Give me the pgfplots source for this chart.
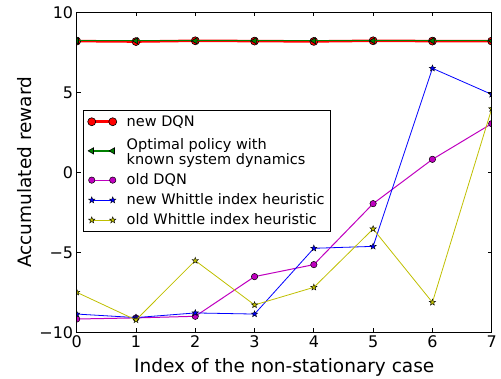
\documentclass[border=0pt]{standalone}
\usepackage{fontspec}
\setmainfont{DejaVu Sans}
\usepackage{pgfplots}
\pgfplotsset{compat=1.18}
\definecolor{mplred}{rgb}{1,0,0}
\definecolor{mplgreen}{rgb}{0,0.5,0}
\definecolor{mplmag}{rgb}{0.75,0,0.75}
\definecolor{mplblue}{rgb}{0,0,1}
\definecolor{mplyel}{rgb}{0.75,0.75,0}
\pgfdeclareplotmark{fstar}{%
  \pgfpathmoveto{\pgfqpointpolar{90}{\pgfplotmarksize}}%
  \pgfpathlineto{\pgfqpointpolar{126}{0.42\pgfplotmarksize}}%
  \pgfpathlineto{\pgfqpointpolar{162}{\pgfplotmarksize}}%
  \pgfpathlineto{\pgfqpointpolar{198}{0.42\pgfplotmarksize}}%
  \pgfpathlineto{\pgfqpointpolar{234}{\pgfplotmarksize}}%
  \pgfpathlineto{\pgfqpointpolar{270}{0.42\pgfplotmarksize}}%
  \pgfpathlineto{\pgfqpointpolar{306}{\pgfplotmarksize}}%
  \pgfpathlineto{\pgfqpointpolar{342}{0.42\pgfplotmarksize}}%
  \pgfpathlineto{\pgfqpointpolar{18}{\pgfplotmarksize}}%
  \pgfpathlineto{\pgfqpointpolar{54}{0.42\pgfplotmarksize}}%
  \pgfpathclose
  \pgfusepathqfillstroke}
\begin{document}
\begin{tikzpicture}
\useasboundingbox (0,0) rectangle (501pt,379pt);
\begin{axis}[
  at={(76.7pt,46.7pt)}, anchor=south west,
  scale only axis, width=415pt, height=320pt,
  xmin=0, xmax=7, ymin=-10, ymax=10,
  xtick={0,1,2,3,4,5,6,7}, ytick={-10,-5,0,5,10},
  xticklabels={0,1,2,3,4,5,6,7},
  yticklabels={−10,−5,0,5,10},
  tick align=inside, major tick length=4pt,
  tick style={black, line width=0.8pt},
  axis line style={black, line width=0.9pt},
  axis on top=true,
  clip marker paths=true,
  ticklabel style={font=\fontsize{16}{19}\selectfont},
  label style={font=\fontsize{18.5}{22}\selectfont},
  xlabel={Index of the non-stationary case},
  ylabel={Accumulated reward},
  xlabel style={at={(axis description cs:0.5,-0.1241)}, anchor=base},
  ylabel style={at={(axis description cs:-0.1084,0.5)}, anchor=base},
  legend cell align=left,
  legend style={at={(0.0160,0.694)}, anchor=north west, draw=black,
    line width=0.8pt, fill=white, inner xsep=4pt, inner ysep=3pt,
    font=\fontsize{14.5}{15.5}\selectfont,
    cells={anchor=west, align=left}, row sep=3.5pt, column sep=8pt},
  legend image code/.code={\draw[#1] plot coordinates {(0pt,0pt) (21pt,0pt)};},
]
\addplot[mplred, line width=2.5pt, mark=*, mark size=4pt,
  mark options={fill=mplred, draw=black, line width=0.6pt}]
  coordinates {(0,8.2) (1,8.17) (2,8.22) (3,8.2) (4,8.18) (5,8.22) (6,8.2) (7,8.2)};
\addlegendentry{new DQN}
\addplot[mplgreen, line width=1.3pt, mark=triangle*, mark size=3.6pt,
  mark options={fill=mplgreen, draw=black, line width=0.6pt, rotate=90}]
  coordinates {(0,8.22) (1,8.22) (2,8.22) (3,8.22) (4,8.22) (5,8.22) (6,8.22) (7,8.22)};
\addlegendentry{\rule{0pt}{14pt}Optimal policy with\\known system dynamics\rule[-6.5pt]{0pt}{0pt}}
\addplot[mplmag, line width=1pt, mark=*, mark size=3.2pt,
  mark options={fill=mplmag, draw=black, line width=0.5pt}]
  coordinates {(0,-9.17) (1,-9.1) (2,-9.0) (3,-6.52) (4,-5.77) (5,-1.96) (6,0.81) (7,3.04)};
\addlegendentry{old DQN}
\addplot[mplblue, line width=0.8pt, mark=fstar, mark size=3.3pt,
  mark options={fill=mplblue, draw=black, line width=0.4pt}]
  coordinates {(0,-8.86) (1,-9.08) (2,-8.79) (3,-8.86) (4,-4.75) (5,-4.63) (6,6.5) (7,4.87)};
\addlegendentry{new Whittle index heuristic}
\addplot[mplyel, line width=0.8pt, mark=fstar, mark size=3.3pt,
  mark options={fill=mplyel, draw=black, line width=0.4pt}]
  coordinates {(0,-7.5) (1,-9.23) (2,-5.52) (3,-8.29) (4,-7.19) (5,-3.54) (6,-8.13) (7,3.97)};
\addlegendentry{old Whittle index heuristic}
\end{axis}
\end{tikzpicture}
\end{document}
